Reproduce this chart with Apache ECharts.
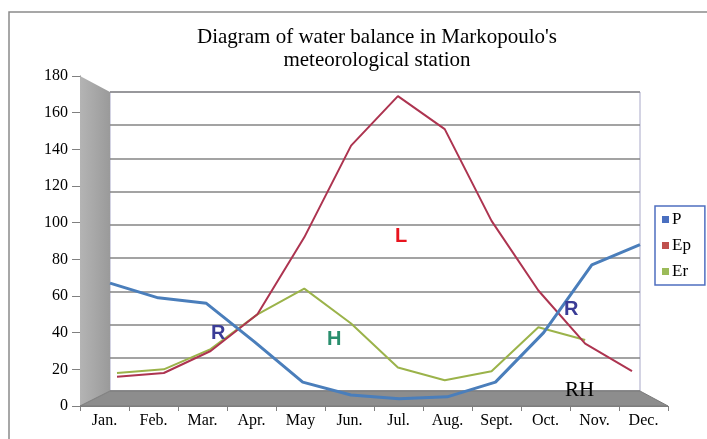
<!DOCTYPE html>
<html>
<head>
    <meta charset="utf-8">
    <title>Water balance - Markopoulo</title>
    <script src="https://cdn.jsdelivr.net/npm/echarts@6/dist/echarts.min.js"></script>
</head>
<body style="margin:0;background:#fff;">
    <div id="main" style="width:707px;height:439px;"></div>
    <script type="text/javascript">
        // months and series (mm)
        var months = ['Jan.', 'Feb.', 'Mar.', 'Apr.', 'May', 'Jun.', 'Jul.', 'Aug.', 'Sept.', 'Oct.', 'Nov.', 'Dec.'];
        var P  = [67, 59, 56, 35, 13, 6, 4, 5, 13, 40, 77, 88];
        var Ep = [16, 18, 30, 50, 92, 142, 169, 151, 101, 63, 34, 19];
        var Er = [18, 20, 31, 50, 64, 45, 21, 14, 19, 43, 36, null];
        var yTicks = { min: 0, max: 180, interval: 20 };

        var serif = 'Liberation Serif';
        var myChart = echarts.init(document.getElementById('main'));

        var hiddenCat = function (grid) {
            return { type: 'category', gridIndex: grid, data: months, boundaryGap: false, show: false };
        };
        var hiddenVal = function (grid) {
            return { type: 'value', gridIndex: grid, min: yTicks.min, max: yTicks.max, interval: yTicks.interval, show: false };
        };

        var option = {
            animation: false,
            backgroundColor: '#fff',
            title: {
                text: "Diagram of water balance in Markopoulo's\nmeteorological station",
                left: 372,
                top: 21,
                textAlign: 'center',
                textStyle: { fontFamily: serif, fontSize: 21, fontWeight: 'normal', color: '#000', lineHeight: 23 }
            },
            legend: {
                data: ['P', 'Ep', 'Er'],
                orient: 'vertical',
                left: 655,
                top: 206,
                icon: 'rect',
                itemWidth: 7,
                itemHeight: 7,
                itemGap: 9,
                padding: [5, 14, 5, 7],
                borderColor: '#4f6fc0',
                borderWidth: 1.5,
                textStyle: { fontFamily: serif, fontSize: 17, color: '#000', padding: [0, 0, 0, -2] }
            },
            grid: [
                // front axis (labels)
                { left: 80, right: 39, top: 76, bottom: 33 },
                // back wall with gridlines
                { left: 110, right: 67, top: 92, bottom: 48, show: true, borderColor: '#a8a8c8', borderWidth: 1 },
                // P line plane
                { left: 110, right: 67, top: 76, bottom: 33 },
                // Ep / Er line plane
                { left: 117, right: 75, top: 76, bottom: 33 }
            ],
            xAxis: [
                {
                    type: 'category', gridIndex: 0, data: months, boundaryGap: true,
                    axisLine: { lineStyle: { color: '#808080', width: 1 } },
                    axisTick: { show: true, length: 5, lineStyle: { color: '#808080' } },
                    axisLabel: { fontFamily: serif, fontSize: 16, color: '#000', margin: 7 }
                },
                hiddenCat(1),
                hiddenCat(2),
                hiddenCat(3)
            ],
            yAxis: [
                {
                    type: 'value', gridIndex: 0, min: yTicks.min, max: yTicks.max, interval: yTicks.interval,
                    axisLine: { show: true, lineStyle: { color: '#808080' } },
                    axisTick: { show: true, length: 8, lineStyle: { color: '#808080' } },
                    axisLabel: { fontFamily: serif, fontSize: 16, color: '#000', margin: 12 },
                    splitLine: { show: false }
                },
                {
                    type: 'value', gridIndex: 1, min: yTicks.min, max: yTicks.max, interval: yTicks.interval,
                    axisLine: { show: false }, axisTick: { show: false }, axisLabel: { show: false },
                    splitLine: { show: true, lineStyle: { color: '#858585', width: 1.5 } }
                },
                hiddenVal(2),
                hiddenVal(3)
            ],
            graphic: [
                // outer frame
                { type: 'rect', shape: { x: 9, y: 12, width: 720, height: 440 }, style: { fill: 'none', stroke: '#8a8a8a', lineWidth: 1.5 }, z: 0 },
                // left side wall
                {
                    type: 'polygon', z: 1,
                    shape: { points: [[80, 76], [110, 92], [110, 391], [80, 406]] },
                    style: { fill: new echarts.graphic.LinearGradient(0, 0, 1, 0, [{ offset: 0, color: '#b4b4b4' }, { offset: 1, color: '#9a9a9a' }]) }
                },
                // floor
                {
                    type: 'polygon', z: 1,
                    shape: { points: [[80, 406], [110, 391], [640, 391], [668, 406]] },
                    style: { fill: '#8d8d8d', stroke: '#7a7a7a', lineWidth: 1 }
                },
                { type: 'text', z: 5, left: 211, top: 323, style: { text: 'R', fill: '#3a3c96', font: 'bold 20px "Liberation Sans"' } },
                { type: 'text', z: 5, left: 564, top: 299, style: { text: 'R', fill: '#3a3c96', font: 'bold 20px "Liberation Sans"' } },
                { type: 'text', z: 5, left: 395, top: 226, style: { text: 'L', fill: '#e8141e', font: 'bold 20px "Liberation Sans"' } },
                { type: 'text', z: 5, left: 327, top: 329, style: { text: 'H', fill: '#2a8f6e', font: 'bold 20px "Liberation Sans"' } },
                { type: 'text', z: 5, left: 565, top: 380, style: { text: 'RH', fill: '#000', font: '21px "Liberation Serif"' } }
            ],
            series: [
                {
                    name: 'P', type: 'line', xAxisIndex: 2, yAxisIndex: 2, data: P,
                    symbol: 'none', z: 4,
                    lineStyle: { color: '#4a7ebb', width: 3 }, itemStyle: { color: '#4a6fc0' }
                },
                {
                    name: 'Ep', type: 'line', xAxisIndex: 3, yAxisIndex: 3, data: Ep,
                    symbol: 'none', z: 3,
                    lineStyle: { color: '#ad3450', width: 2 }, itemStyle: { color: '#c0504d' }
                },
                {
                    name: 'Er', type: 'line', xAxisIndex: 3, yAxisIndex: 3, data: Er,
                    symbol: 'none', z: 2,
                    lineStyle: { color: '#9bb34a', width: 2 }, itemStyle: { color: '#9bbb59' }
                }
            ]
        };

        myChart.setOption(option);
    </script>
</body>
</html>
